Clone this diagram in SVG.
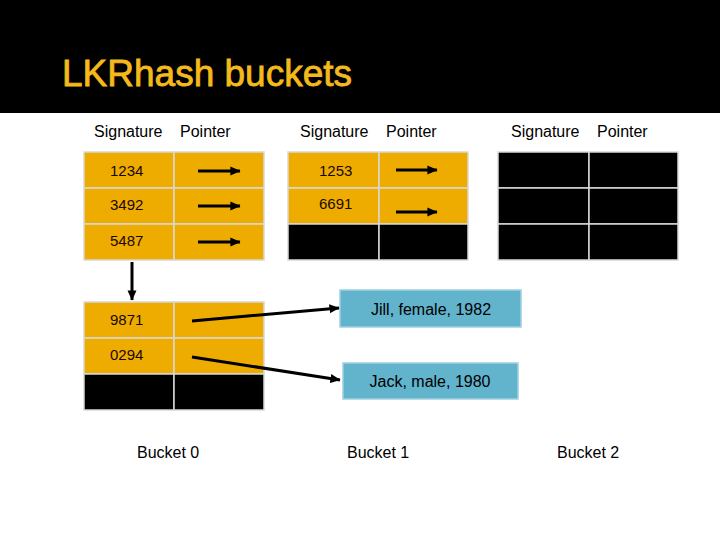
<svg xmlns="http://www.w3.org/2000/svg" width="720" height="540" viewBox="0 0 720 540">
<style>
.cell{stroke:#d8d8d8;stroke-width:1.5}
.g{fill:#EFAC00}
.k{fill:#000}
.b{fill:#62B3CC;stroke:#9fd0e0;stroke-width:1.5}
.t{font-family:"Liberation Sans",Arial,sans-serif;font-size:16px;fill:#000}
.v{font-family:"Liberation Sans",Arial,sans-serif;font-size:15px;fill:#1a0800}
.c{stroke:#000;stroke-width:3;fill:none;marker-end:url(#ah)}
</style>
<defs>
<marker id="ah" markerWidth="4" markerHeight="4" refX="3.2" refY="2" orient="auto" markerUnits="strokeWidth">
<path d="M0,0.5 L3.4,2 L0,3.5 Z" fill="#000"/>
</marker>
</defs>
<rect x="0" y="0" width="720" height="540" fill="#fff"/>
<g id="title">
<rect x="0" y="0" width="720" height="113" fill="#000"/>
<text x="62" y="86" font-family="Liberation Sans,Arial,sans-serif" font-size="37" fill="#F4BA1B" stroke="#F4BA1B" stroke-width="0.8">LKRhash buckets</text>
</g>
<g id="headers">
<text class="t" x="94" y="137">Signature</text>
<text class="t" x="180" y="137">Pointer</text>
<text class="t" x="300" y="137">Signature</text>
<text class="t" x="386" y="137">Pointer</text>
<text class="t" x="511" y="137">Signature</text>
<text class="t" x="597" y="137">Pointer</text>
</g>
<g id="bucket0">
<rect class="cell g" x="84" y="152" width="90" height="36"/>
<rect class="cell g" x="174" y="152" width="90" height="36"/>
<rect class="cell g" x="84" y="188" width="90" height="36"/>
<rect class="cell g" x="174" y="188" width="90" height="36"/>
<rect class="cell g" x="84" y="224" width="90" height="36"/>
<rect class="cell g" x="174" y="224" width="90" height="36"/>
<text class="v" x="110" y="176">1234</text>
<text class="v" x="110" y="210">3492</text>
<text class="v" x="110" y="246">5487</text>
</g>
<g id="bucket0-overflow">
<rect class="cell g" x="84" y="302" width="90" height="36"/>
<rect class="cell g" x="174" y="302" width="90" height="36"/>
<rect class="cell g" x="84" y="338" width="90" height="36"/>
<rect class="cell g" x="174" y="338" width="90" height="36"/>
<rect class="cell k" x="84" y="374" width="90" height="36"/>
<rect class="cell k" x="174" y="374" width="90" height="36"/>
<text class="v" x="110" y="325">9871</text>
<text class="v" x="110" y="360">0294</text>
</g>
<g id="bucket1">
<rect class="cell g" x="288" y="152" width="91" height="36"/>
<rect class="cell g" x="379" y="152" width="89" height="36"/>
<rect class="cell g" x="288" y="188" width="91" height="36"/>
<rect class="cell g" x="379" y="188" width="89" height="36"/>
<rect class="cell k" x="288" y="224" width="91" height="36"/>
<rect class="cell k" x="379" y="224" width="89" height="36"/>
<text class="v" x="319" y="176">1253</text>
<text class="v" x="319" y="209">6691</text>
</g>
<g id="bucket2">
<rect class="cell k" x="498" y="152" width="91" height="36"/>
<rect class="cell k" x="589" y="152" width="89" height="36"/>
<rect class="cell k" x="498" y="188" width="91" height="36"/>
<rect class="cell k" x="589" y="188" width="89" height="36"/>
<rect class="cell k" x="498" y="224" width="91" height="36"/>
<rect class="cell k" x="589" y="224" width="89" height="36"/>
</g>
<g id="jill">
<rect class="b" x="340" y="290" width="181" height="37"/>
<text class="t" x="431" y="315" text-anchor="middle" font-size="15">Jill, female, 1982</text>
</g>
<g id="jack">
<rect class="b" x="343" y="363" width="175" height="36"/>
<text class="t" x="430" y="387" text-anchor="middle" font-size="15">Jack, male, 1980</text>
</g>
<g id="labels">
<text class="t" x="137" y="458">Bucket 0</text>
<text class="t" x="347" y="458">Bucket 1</text>
<text class="t" x="557" y="458">Bucket 2</text>
</g>
<g id="connectors">
<line class="c" x1="198" y1="171" x2="240" y2="171"/>
<line class="c" x1="198" y1="206" x2="240" y2="206"/>
<line class="c" x1="198" y1="242" x2="240" y2="242"/>
<line class="c" x1="396" y1="170" x2="437" y2="170"/>
<line class="c" x1="396" y1="212" x2="437" y2="212"/>
<line class="c" x1="132" y1="262" x2="132" y2="300"/>
<line class="c" x1="192" y1="321" x2="339" y2="308"/>
<line class="c" x1="192" y1="357" x2="340" y2="380"/>
</g>
</svg>
